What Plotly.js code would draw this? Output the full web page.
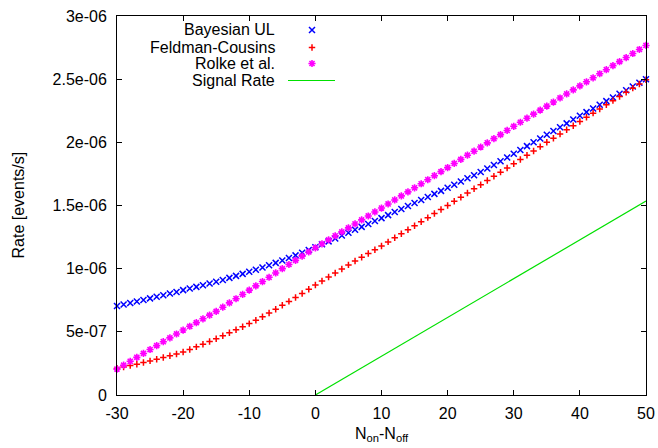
<!DOCTYPE html>
<html>
<head>
<meta charset="utf-8">
<script src="https://cdn.plot.ly/plotly-3.0.1.min.js"></script>
<style>
  html, body { margin: 0; padding: 0; background: #ffffff; }
  #chart { width: 658px; height: 448px; }
</style>
</head>
<body>
<div id="chart"></div>
<script>
// ---------------- data ----------------
const nDiff = [
  -30,-29,-28,-27,-26,-25,-24,-23,-22,-21,-20,-19,-18,-17,-16,-15,-14,-13,-12,-11,
  -10,-9,-8,-7,-6,-5,-4,-3,-2,-1,0,1,2,3,4,5,6,7,8,9,
  10,11,12,13,14,15,16,17,18,19,20,21,22,23,24,25,26,27,28,29,
  30,31,32,33,34,35,36,37,38,39,40,41,42,43,44,45,46,47,48,49,50
];

const bayesianUL = [
  0.705e-6,0.716e-6,0.728e-6,0.740e-6,0.752e-6,0.765e-6,0.778e-6,0.790e-6,0.803e-6,0.816e-6,
  0.830e-6,0.843e-6,0.856e-6,0.869e-6,0.882e-6,0.896e-6,0.911e-6,0.927e-6,0.943e-6,0.959e-6,
  0.975e-6,0.992e-6,1.009e-6,1.027e-6,1.046e-6,1.065e-6,1.085e-6,1.105e-6,1.126e-6,1.148e-6,
  1.170e-6,1.193e-6,1.216e-6,1.239e-6,1.262e-6,1.285e-6,1.308e-6,1.331e-6,1.354e-6,1.377e-6,
  1.400e-6,1.424e-6,1.448e-6,1.472e-6,1.496e-6,1.520e-6,1.544e-6,1.568e-6,1.592e-6,1.616e-6,
  1.640e-6,1.665e-6,1.690e-6,1.715e-6,1.740e-6,1.765e-6,1.793e-6,1.821e-6,1.850e-6,1.880e-6,
  1.910e-6,1.940e-6,1.970e-6,2.000e-6,2.030e-6,2.060e-6,2.090e-6,2.120e-6,2.150e-6,2.180e-6,
  2.210e-6,2.239e-6,2.268e-6,2.297e-6,2.326e-6,2.355e-6,2.384e-6,2.413e-6,2.442e-6,2.471e-6,
  2.500e-6
];

const feldmanCousins = [
  0.211e-6,0.222e-6,0.233e-6,0.244e-6,0.257e-6,0.270e-6,0.283e-6,0.297e-6,0.311e-6,0.325e-6,
  0.340e-6,0.360e-6,0.381e-6,0.402e-6,0.424e-6,0.446e-6,0.469e-6,0.492e-6,0.516e-6,0.540e-6,
  0.565e-6,0.592e-6,0.620e-6,0.649e-6,0.679e-6,0.710e-6,0.741e-6,0.772e-6,0.804e-6,0.837e-6,
  0.870e-6,0.902e-6,0.934e-6,0.966e-6,0.998e-6,1.030e-6,1.060e-6,1.090e-6,1.120e-6,1.150e-6,
  1.180e-6,1.212e-6,1.244e-6,1.276e-6,1.308e-6,1.340e-6,1.372e-6,1.404e-6,1.436e-6,1.468e-6,
  1.500e-6,1.533e-6,1.566e-6,1.599e-6,1.632e-6,1.665e-6,1.698e-6,1.731e-6,1.764e-6,1.797e-6,
  1.830e-6,1.864e-6,1.898e-6,1.932e-6,1.966e-6,2.000e-6,2.033e-6,2.066e-6,2.099e-6,2.132e-6,
  2.165e-6,2.198e-6,2.231e-6,2.264e-6,2.297e-6,2.330e-6,2.363e-6,2.396e-6,2.429e-6,2.462e-6,
  2.495e-6
];

const rolke = [
  0.205e-6,0.236e-6,0.267e-6,0.298e-6,0.329e-6,0.360e-6,0.391e-6,0.422e-6,0.452e-6,0.483e-6,
  0.514e-6,0.544e-6,0.573e-6,0.603e-6,0.632e-6,0.662e-6,0.695e-6,0.729e-6,0.762e-6,0.796e-6,
  0.830e-6,0.864e-6,0.898e-6,0.932e-6,0.966e-6,1.000e-6,1.033e-6,1.066e-6,1.099e-6,1.132e-6,
  1.165e-6,1.197e-6,1.228e-6,1.260e-6,1.291e-6,1.323e-6,1.354e-6,1.386e-6,1.417e-6,1.449e-6,
  1.480e-6,1.512e-6,1.544e-6,1.576e-6,1.608e-6,1.640e-6,1.672e-6,1.704e-6,1.736e-6,1.768e-6,
  1.800e-6,1.833e-6,1.865e-6,1.898e-6,1.930e-6,1.963e-6,1.996e-6,2.029e-6,2.061e-6,2.094e-6,
  2.127e-6,2.159e-6,2.191e-6,2.223e-6,2.255e-6,2.287e-6,2.319e-6,2.351e-6,2.383e-6,2.415e-6,
  2.447e-6,2.479e-6,2.511e-6,2.543e-6,2.575e-6,2.607e-6,2.639e-6,2.671e-6,2.703e-6,2.735e-6,
  2.767e-6
];

const signalX = [0, 50];
const signalRate = [0, 1.535e-6];

const seriesNames = ['Bayesian UL', 'Feldman-Cousins', 'Rolke et al.', 'Signal Rate'];

const xTickVals = [-30, -20, -10, 0, 10, 20, 30, 40, 50];
const xTickText = ['-30', '-20', '-10', '0', '10', '20', '30', '40', '50'];
const yTickVals = [0, 5e-7, 1e-6, 1.5e-6, 2e-6, 2.5e-6, 3e-6];
const yTickText = ['0', '5e-07', '1e-06', '1.5e-06', '2e-06', '2.5e-06', '3e-06'];

// ---------------- styling ----------------
const FONT = 'Liberation Sans, Arial, Helvetica, sans-serif';
const FS = 16;
const colors = ['#0000ff', '#ff0000', '#ff00ff', '#00e000'];

// plot area in pixels (gnuplot-like frame)
const L = 117, R = 646, T = 16, B = 395;
const px2fx = px => (px - L) / (R - L);
const py2fy = py => (B - py) / (B - T);

// key (legend) placement in pixels
const keyTextX = 277, keySymX = 312, keyLineX = [288, 335];
const keyRowY = [30, 47.5, 63.5, 80.5];

const markerDefs = [
  {symbol: 'x-thin-open', size: 6, line: {color: colors[0], width: 1.5}, color: colors[0]},
  {symbol: 'cross-thin-open', size: 4.6, line: {color: colors[1], width: 1.5}, color: colors[1]},
  {symbol: 'asterisk-open', size: 6, line: {color: colors[2], width: 1.6}, color: colors[2]}
];

const traces = [
  {x: nDiff, y: bayesianUL, name: seriesNames[0], type: 'scatter', mode: 'markers',
   marker: markerDefs[0], cliponaxis: false},
  {x: nDiff, y: feldmanCousins, name: seriesNames[1], type: 'scatter', mode: 'markers',
   marker: markerDefs[1], cliponaxis: false},
  {x: nDiff, y: rolke, name: seriesNames[2], type: 'scatter', mode: 'markers',
   marker: markerDefs[2], cliponaxis: false},
  {x: signalX, y: signalRate, name: seriesNames[3], type: 'scatter', mode: 'lines',
   line: {color: colors[3], width: 1.2}, cliponaxis: false}
];

// key samples, drawn on a hidden pixel-unit overlay axis
for (let i = 0; i < 3; i++) {
  traces.push({x: [keySymX], y: [keyRowY[i]], xaxis: 'x2', yaxis: 'y2', type: 'scatter',
    mode: 'markers', marker: markerDefs[i], showlegend: false, cliponaxis: false, hoverinfo: 'skip'});
}
traces.push({x: keyLineX, y: [keyRowY[3], keyRowY[3]], xaxis: 'x2', yaxis: 'y2', type: 'scatter',
  mode: 'lines', line: {color: colors[3], width: 1.2}, showlegend: false, cliponaxis: false, hoverinfo: 'skip'});

const annotations = seriesNames.map((name, i) => ({
  xref: 'paper', yref: 'paper', x: px2fx(keyTextX), y: py2fy(keyRowY[i]), text: name, showarrow: false,
  xanchor: 'right', yanchor: 'middle', font: {family: FONT, size: FS, color: '#000'}
}));
// axis titles
annotations.push({
  xref: 'paper', yref: 'paper', x: px2fx(18), y: 0.5, text: 'Rate [events/s]',
  textangle: -90, showarrow: false, xanchor: 'center', yanchor: 'middle',
  font: {family: FONT, size: FS, color: '#000'}
});
annotations.push({
  xref: 'paper', yref: 'paper', x: 0.5, y: py2fy(434), text: 'N<sub>on</sub>-N<sub>off</sub>',
  showarrow: false, xanchor: 'center', yanchor: 'middle',
  font: {family: FONT, size: FS, color: '#000'}
});

const axisCommon = {
  showgrid: false, zeroline: false, showline: true, linecolor: '#000', linewidth: 1,
  mirror: 'ticks', ticks: 'inside', ticklen: 5, tickwidth: 1, tickcolor: '#000',
  tickfont: {family: FONT, size: FS, color: '#000'}, tickmode: 'array', fixedrange: true
};

const layout = {
  width: 658, height: 448,
  margin: {l: L, r: 658 - R, t: T, b: 448 - B, pad: 0},
  paper_bgcolor: '#fff', plot_bgcolor: '#fff',
  showlegend: false,
  font: {family: FONT, size: FS, color: '#000'},
  xaxis: Object.assign({}, axisCommon, {range: [-30, 50], tickvals: xTickVals, ticktext: xTickText,
    ticklabelstandoff: 4}),
  yaxis: Object.assign({}, axisCommon, {range: [0, 3e-6], tickvals: yTickVals, ticktext: yTickText,
    ticklabelstandoff: 6}),
  xaxis2: {overlaying: 'x', range: [L, R], visible: false, fixedrange: true},
  yaxis2: {overlaying: 'y', range: [B, T], visible: false, fixedrange: true},
  annotations: annotations
};

Plotly.newPlot('chart', traces, layout, {staticPlot: true, displayModeBar: false});
</script>
</body>
</html>
